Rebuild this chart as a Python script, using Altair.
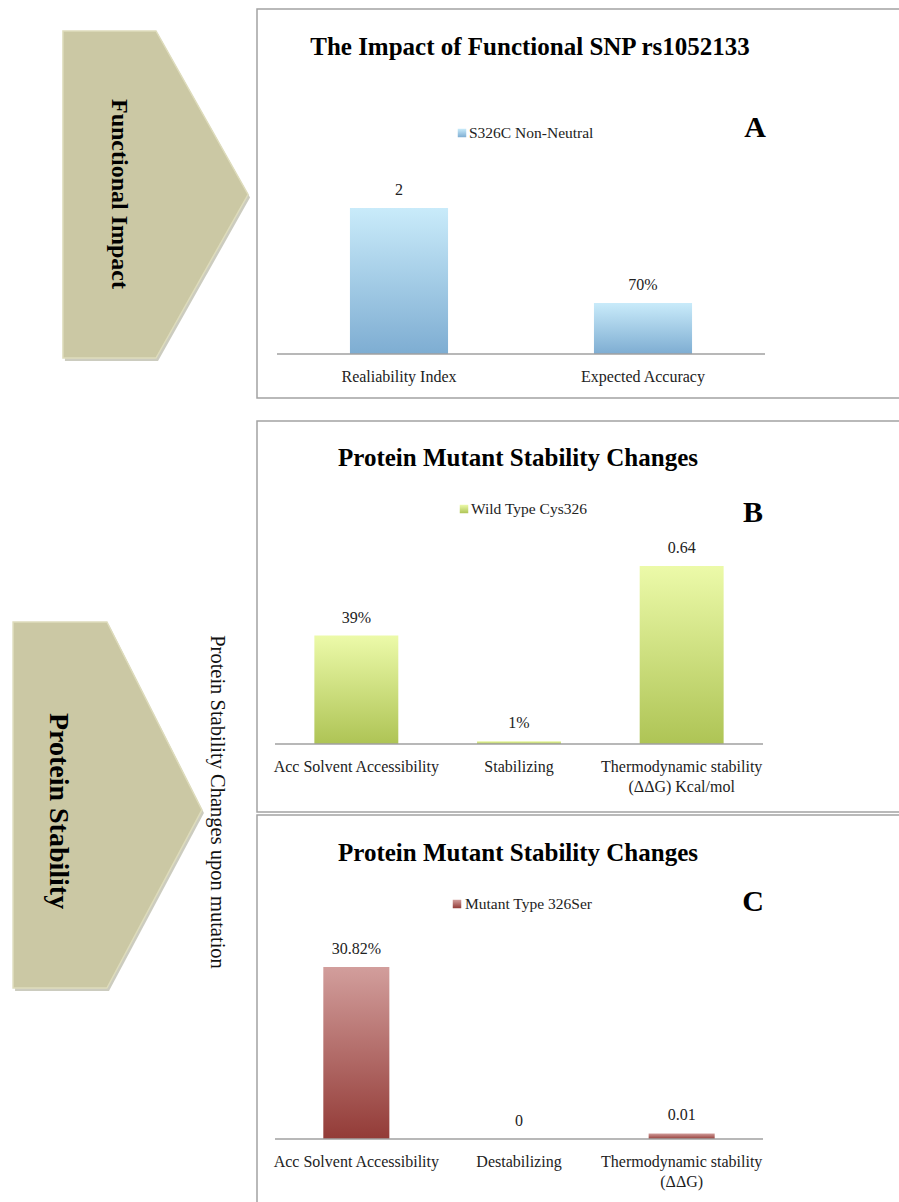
import altair as alt
import pandas as pd

# ---------------- data ----------------
panel_titles = ["The Impact of Functional SNP rs1052133",
                "Protein Mutant Stability Changes",
                "Protein Mutant Stability Changes"]
panel_letters = ["A", "B", "C"]
series_names = ["S326C Non-Neutral", "Wild Type Cys326", "Mutant Type 326Ser"]

a_categories = ["Realiability Index", "Expected Accuracy"]
a_values = [2.0, 0.70]
a_labels = ["2", "70%"]

b_categories = ["Acc Solvent Accessibility", "Stabilizing",
                "Thermodynamic stability\n(ΔΔG) Kcal/mol"]
b_values = [0.39, 0.01, 0.64]
b_labels = ["39%", "1%", "0.64"]

c_categories = ["Acc Solvent Accessibility", "Destabilizing",
                "Thermodynamic stability\n(ΔΔG)"]
c_values = [0.3082, 0.0, 0.01]
c_labels = ["30.82%", "0", "0.01"]

arrow_labels = ["Functional Impact", "Protein Stability"]
side_caption = "Protein Stability Changes upon mutation"

# ---------------- styles / layout ----------------
SERIF = "Liberation Serif"
W, H = 899, 1202


def grad(top, bottom):
    return alt.Gradient(gradient="linear",
                        stops=[alt.GradientStop(color=top, offset=0),
                               alt.GradientStop(color=bottom, offset=1)],
                        x1=0, x2=0, y1=0, y2=1)


LAYOUTS = [
    dict(x0=277, x1=765, base=354, top=208, pi=0.598, tx=530, ty=47,
         ly=133, sqx=462, lx=469, letx=755, lety=128,
         frame=(257, 9, 910, 398), grad=grad("#c9ebfa", "#7eadd2")),
    dict(x0=275, x1=763, base=744, top=566, pi=0.484, tx=518, ty=458,
         ly=509, sqx=464, lx=471, letx=753, lety=513,
         frame=(257, 421, 910, 812), grad=grad("#ecfaa9", "#aec455")),
    dict(x0=275, x1=763, base=1139, top=967, pi=0.594, tx=518, ty=853,
         ly=904, sqx=457, lx=465, letx=753, lety=902,
         frame=(257, 815, 910, 1215), grad=grad("#d29e9c", "#933b37")),
]


def one(text):
    return pd.DataFrame({"t": [text]})


def panel(cats, vals, labels, series, title, letter, L):
    df = pd.DataFrame({"category": cats, "value": vals, "label": labels})
    xs = alt.Scale(type="band", domain=cats, range=[L["x0"], L["x1"]],
                   paddingInner=L["pi"], paddingOuter=L["pi"] / 2)
    ys = alt.Scale(domain=[0, max(vals)], range=[L["base"], L["top"]],
                   nice=False, zero=True)
    X = alt.X("category:N", scale=xs, axis=None, sort=None)
    Y = alt.Y("value:Q", scale=ys, axis=None)

    fx0, fy0, fx1, fy1 = L["frame"]
    frame = alt.Chart(one("")).mark_rect(
        fillOpacity=0, stroke="#a3a3a3", strokeWidth=1.5
    ).encode(x=alt.value(fx0), x2=alt.value(fx1),
             y=alt.value(fy0), y2=alt.value(fy1))

    bars = alt.Chart(df).mark_bar(color=L["grad"]).encode(x=X, y=Y)

    values = alt.Chart(df).mark_text(
        font=SERIF, fontSize=16, dy=-18, baseline="middle", color="#222"
    ).encode(x=X, y=Y, text="label:N")

    catlab = alt.Chart(df).mark_text(
        font=SERIF, fontSize=16, baseline="top", lineBreak="\n",
        lineHeight=20, color="#222"
    ).encode(x=X, y=alt.value(L["base"] + 15), text="category:N")

    base = alt.Chart(pd.DataFrame({"v": [0]})).mark_rule(
        color="#a0a0a0", strokeWidth=1.5
    ).encode(x=alt.value(L["x0"]), x2=alt.value(L["x1"]),
             y=alt.Y("v:Q", scale=ys, axis=None))

    ttl = alt.Chart(one(title)).mark_text(
        font=SERIF, fontSize=25, fontWeight="bold", baseline="middle",
        color="#000"
    ).encode(x=alt.value(L["tx"]), y=alt.value(L["ty"]), text="t:N")

    let = alt.Chart(one(letter)).mark_text(
        font=SERIF, fontSize=30, fontWeight="bold", baseline="middle",
        color="#000"
    ).encode(x=alt.value(L["letx"]), y=alt.value(L["lety"]), text="t:N")

    sq = alt.Chart(one(series)).mark_square(
        size=72, color=L["grad"], opacity=1
    ).encode(x=alt.value(L["sqx"]), y=alt.value(L["ly"]))

    legt = alt.Chart(one(series)).mark_text(
        font=SERIF, fontSize=15.5, align="left", baseline="middle",
        color="#222"
    ).encode(x=alt.value(L["lx"]), y=alt.value(L["ly"]), text="t:N")

    return alt.layer(frame, bars, base, values, catlab, ttl, let, sq, legt)


def arrow_layers(label, cx, cy, size, path, fsize, tx, ty):
    shadow = alt.Chart(one(label)).mark_point(
        shape=path, size=size, filled=True, color="#8f8d72", opacity=0.45
    ).encode(x=alt.value(cx + 2), y=alt.value(cy + 3))
    body = alt.Chart(one(label)).mark_point(
        shape=path, size=size, filled=True, fill="#cbc8a4", opacity=1,
        stroke="#dedcbc", strokeWidth=1.5
    ).encode(x=alt.value(cx), y=alt.value(cy))
    txt = alt.Chart(one(label)).mark_text(
        font=SERIF, fontSize=fsize, fontWeight="bold", angle=90,
        baseline="middle", align="center", color="#000"
    ).encode(x=alt.value(tx), y=alt.value(ty), text="t:N")
    return [shadow, body, txt]


# arrow outlines as symbol paths (shape style), positioned by value encodings
path1 = "M-0.566,-1L0.003,-1L0.566,0L0.003,1L-0.566,1Z"
path2 = "M-0.516,-1L-0.003,-1L0.516,0.027L-0.003,1L-0.516,1Z"

arrows = (arrow_layers(arrow_labels[0], 155.5, 194.5, 327 ** 2, path1, 24, 119, 194)
          + arrow_layers(arrow_labels[1], 107.5, 805, 366 ** 2, path2, 28, 58, 811))

caption = alt.Chart(one(side_caption)).mark_text(
    font=SERIF, fontSize=20.5, angle=90, baseline="middle", align="center",
    color="#111"
).encode(x=alt.value(217), y=alt.value(802), text="t:N")

pA = panel(a_categories, a_values, a_labels, series_names[0],
           panel_titles[0], panel_letters[0], LAYOUTS[0])
pB = panel(b_categories, b_values, b_labels, series_names[1],
           panel_titles[1], panel_letters[1], LAYOUTS[1])
pC = panel(c_categories, c_values, c_labels, series_names[2],
           panel_titles[2], panel_letters[2], LAYOUTS[2])

chart = alt.layer(pA, pB, pC, *arrows, caption).resolve_scale(
    x="independent", y="independent"
).properties(
    width=W, height=H, padding=0, autosize="none", background="white"
).configure_view(strokeOpacity=0)

chart.save("out.html", embed_options={"renderer": "svg", "actions": False})
